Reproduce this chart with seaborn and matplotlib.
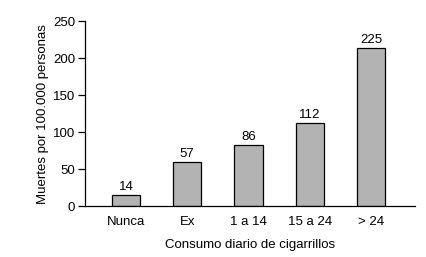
"""Mortality by daily cigarette consumption, grey bar chart."""

import matplotlib

matplotlib.use("Agg")
import matplotlib.pyplot as plt
import pandas as pd
import seaborn as sns

CATEGORIES = ["Nunca", "Ex", "1 a 14", "15 a 24", "> 24"]
# bar heights as drawn in the source picture
BAR_HEIGHTS = [15, 59, 83, 112, 214]
# values printed above the bars
VALUE_LABELS = ["14", "57", "86", "112", "225"]
Y_TICKS = [0, 50, 100, 150, 200, 250]

BAR_COLOR = "#b3b3b3"
FONT = ["Liberation Sans", "DejaVu Sans"]
FONT_SIZE = 9.5


def main() -> None:
    sns.set_theme(style="ticks")
    plt.rcParams["font.family"] = FONT

    df = pd.DataFrame({"Consumo": CATEGORIES, "Muertes": BAR_HEIGHTS})

    fig = plt.figure(figsize=(4.27, 2.57), dpi=100)
    ax = fig.add_axes([0.199, 0.198, 0.773, 0.72])

    sns.barplot(
        data=df,
        x="Consumo",
        y="Muertes",
        color=BAR_COLOR,
        saturation=1,
        edgecolor="black",
        linewidth=0.9,
        width=0.46,
        ax=ax,
    )

    for patch, text in zip(ax.patches, VALUE_LABELS):
        ax.annotate(
            text,
            (patch.get_x() + patch.get_width() / 2, patch.get_height()),
            xytext=(0, 1.5),
            textcoords="offset points",
            ha="center",
            va="bottom",
            fontsize=FONT_SIZE,
            color="black",
        )

    ax.set_xlim(-0.67, 4.72)
    ax.set_ylim(0, 250)
    ax.set_yticks(Y_TICKS)
    ax.set_xlabel("Consumo diario de cigarrillos", fontsize=FONT_SIZE, labelpad=8, color="black")
    ax.set_ylabel("Muertes por 100.000 personas", fontsize=FONT_SIZE, labelpad=3, color="black")
    ax.tick_params(axis="y", length=5, width=0.9, labelsize=FONT_SIZE, colors="black", pad=2)
    ax.tick_params(axis="x", length=0, labelsize=FONT_SIZE, colors="black", pad=7)

    sns.despine(ax=ax)
    for side in ("left", "bottom"):
        ax.spines[side].set_linewidth(0.9)
        ax.spines[side].set_color("black")

    fig.savefig("out.png", dpi=100)
    plt.close(fig)


if __name__ == "__main__":
    main()
